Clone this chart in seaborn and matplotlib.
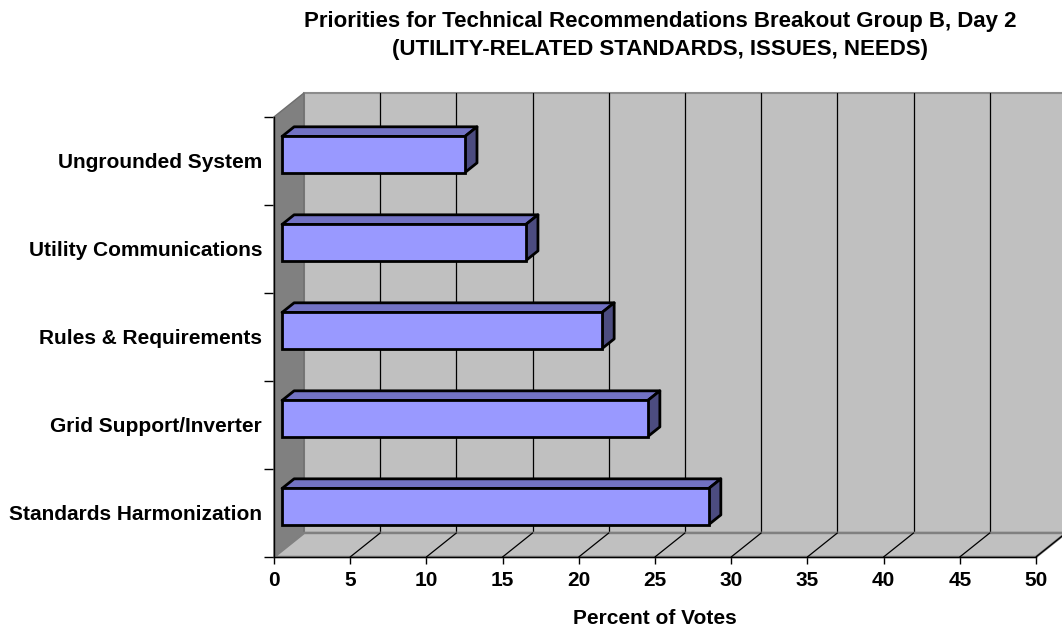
import matplotlib
matplotlib.use("Agg")
import matplotlib.pyplot as plt
import matplotlib.transforms as mtransforms
from matplotlib.patches import Polygon, Rectangle
import seaborn as sns

categories = [
    "Ungrounded System",
    "Utility Communications",
    "Rules & Requirements",
    "Grid Support/Inverter",
    "Standards Harmonization",
]
votes = [12, 16, 21, 24, 28]
x_ticks = [0, 5, 10, 15, 20, 25, 30, 35, 40, 45, 50]
title_lines = ["Priorities for Technical Recommendations Breakout Group B, Day 2",
               "(UTILITY-RELATED STANDARDS, ISSUES, NEEDS)"]
x_label = "Percent of Votes"

sns.set_theme(style="white", rc={
    "text.color": "black", "axes.labelcolor": "black",
    "xtick.color": "black", "ytick.color": "black",
    "xtick.bottom": True, "ytick.left": True,
})
plt.rcParams["font.family"] = ["Liberation Sans", "DejaVu Sans"]
plt.rcParams["font.weight"] = "bold"

fig = plt.figure(figsize=(10.62, 6.38), dpi=100)
ax = fig.add_axes([0.258, 0.127, 0.7175, 0.6897])

XMAX = x_ticks[-1]
n = len(categories)
Y_TOP, Y_BOT = -0.5, n - 0.5

# oblique projection of the depth axis, in data units
DX, DY = 1.97, 0.273
D_FRONT, D_BACK = 0.27, 0.67  # depth span occupied by the bars

WALL = "#C0C0C0"
SIDE = "#808080"
FRONT = "#9999FF"
TOP = "#7272C4"
RIGHT = "#4C4C80"
FS = 15


def poly(pts, **kw):
    p = Polygon(pts, closed=True, clip_on=False, **kw)
    ax.add_patch(p)
    return p


# front faces of the bars
sns.barplot(x=votes, y=categories, orient="h", width=0.41, color=FRONT,
            saturation=1, edgecolor="black", linewidth=2.0, ax=ax, zorder=3)
bars = [p for p in ax.patches if isinstance(p, Rectangle)]

# back wall
poly([(DX, Y_TOP - DY), (XMAX + DX, Y_TOP - DY),
      (XMAX + DX, Y_BOT - DY), (DX, Y_BOT - DY)],
     facecolor=WALL, edgecolor="#8C8C8C", lw=1.5, zorder=0.5)
for t in x_ticks[1:-1]:
    ax.plot([t + DX, t + DX], [Y_TOP - DY, Y_BOT - DY], color="black",
            lw=0.9, clip_on=False, zorder=0.6)

# left side wall
poly([(0, Y_TOP), (DX, Y_TOP - DY), (DX, Y_BOT - DY), (0, Y_BOT)],
     facecolor=SIDE, edgecolor="#6E6E6E", lw=1.0, zorder=0.7)

# floor
poly([(0, Y_BOT), (XMAX, Y_BOT), (XMAX + DX, Y_BOT - DY), (DX, Y_BOT - DY)],
     facecolor=WALL, edgecolor="#808080", lw=1.8, zorder=0.8)
for t in x_ticks[1:]:
    ax.plot([t, t + DX], [Y_BOT, Y_BOT - DY], color="black", lw=0.9,
            clip_on=False, zorder=0.9)

# push bars into the depth and add their top and end faces
shift = mtransforms.Affine2D().translate(D_FRONT * DX, -D_FRONT * DY) + ax.transData
fx, fy = D_FRONT * DX, -D_FRONT * DY
bx, by = (D_BACK - D_FRONT) * DX, -(D_BACK - D_FRONT) * DY
for bar in bars:
    bar.set_transform(shift)
    x0, y0 = bar.get_x(), bar.get_y()
    w, h = bar.get_width(), bar.get_height()
    top = [(x0 + fx, y0 + fy), (x0 + w + fx, y0 + fy),
           (x0 + w + fx + bx, y0 + fy + by), (x0 + fx + bx, y0 + fy + by)]
    end = [(x0 + w + fx, y0 + fy), (x0 + w + fx, y0 + h + fy),
           (x0 + w + fx + bx, y0 + h + fy + by), (x0 + w + fx + bx, y0 + fy + by)]
    poly(top, facecolor=TOP, edgecolor="black", lw=2.0, joinstyle="round", zorder=2.9)
    poly(end, facecolor=RIGHT, edgecolor="black", lw=2.0, joinstyle="round", zorder=2.9)

ax.set_xlim(0, XMAX)
ax.set_ylim(Y_BOT, Y_TOP)
ax.set_facecolor("none")

ax.set_xticks(x_ticks)
ax.set_xticklabels([str(t) for t in x_ticks], fontsize=FS, fontweight="bold")
ax.tick_params(axis="x", which="major", bottom=True, direction="out",
               length=5, width=1, color="black", pad=5)

ax.set_yticks(range(n))
ax.set_yticklabels(categories, fontsize=FS, fontweight="bold")
ax.set_yticks([i - 0.5 for i in range(n + 1)], minor=True)
ax.tick_params(axis="y", which="major", left=False, length=0, pad=8.5)
ax.tick_params(axis="y", which="minor", left=True, direction="out",
               length=7, width=1, color="black")
ax.set_ylabel("")
ax.set_xlabel(x_label, fontsize=FS, fontweight="bold", va="center")
ax.xaxis.set_label_coords(0.5, -0.139)

for s in ("top", "right"):
    ax.spines[s].set_visible(False)
for s in ("left", "bottom"):
    ax.spines[s].set_color("black")
    ax.spines[s].set_linewidth(1.0)
    ax.spines[s].set_zorder(1.0)

for line, ypx in zip(title_lines, (21, 49)):
    fig.text(660 / 1062, 1 - ypx / 638, line, ha="center", va="center",
             fontsize=16, fontweight="bold")

fig.savefig("out.png", dpi=100)
